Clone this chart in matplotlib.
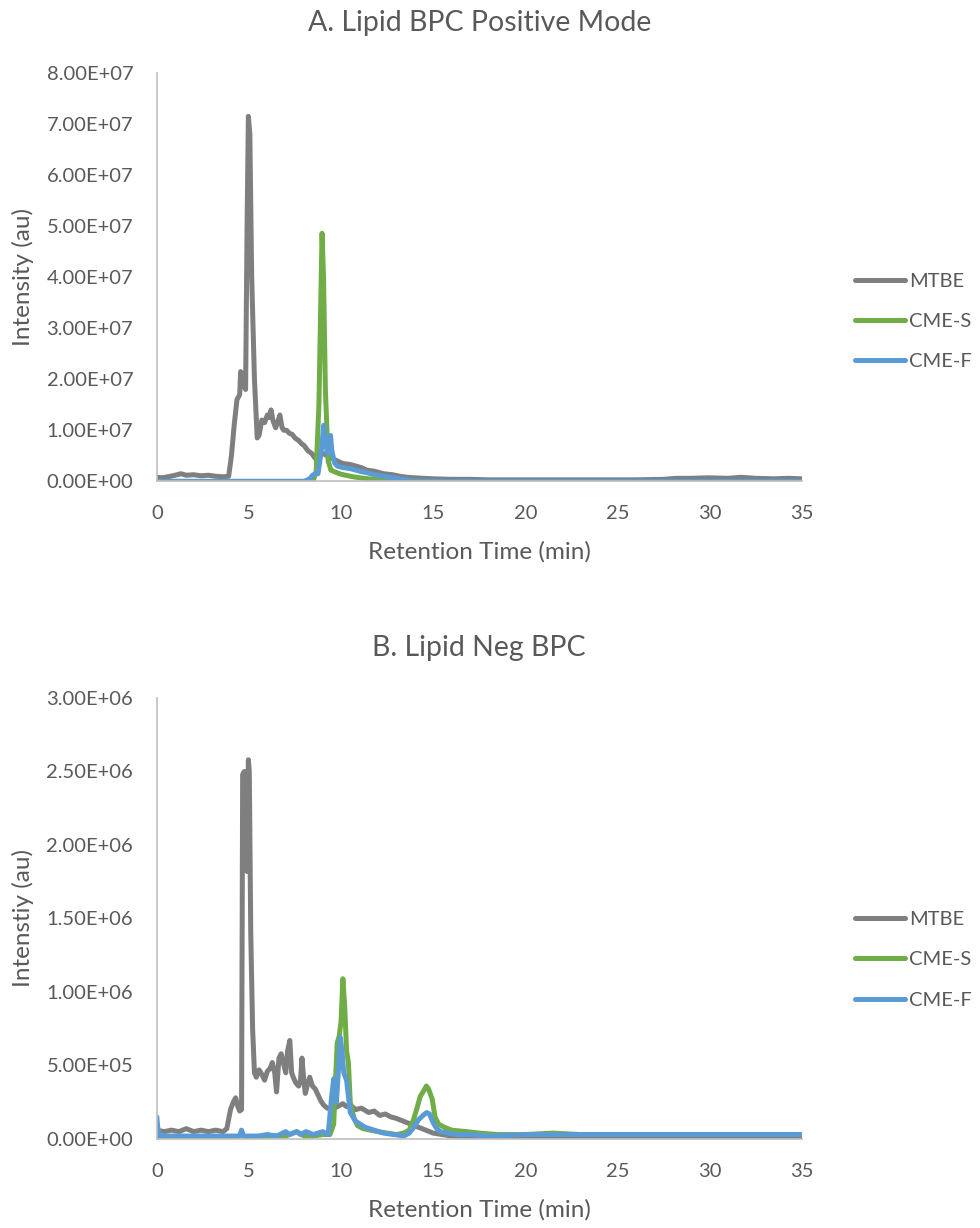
import matplotlib
matplotlib.use("Agg")
import matplotlib.pyplot as plt
from matplotlib.ticker import FuncFormatter

plt.rcParams['font.family'] = ['Lato', 'DejaVu Sans']

# --- A. positive mode (time in min, intensity / 1e7) ---
mtbe_pos = [(0, 0.08), (0.3, 0.07), (0.6, 0.09), (1.0, 0.12), (1.3, 0.15), (1.6, 0.12),
            (2.0, 0.13), (2.4, 0.11), (2.8, 0.12), (3.2, 0.10), (3.6, 0.09), (3.9, 0.10),
            (4.05, 0.5), (4.2, 1.1), (4.35, 1.6), (4.5, 1.7), (4.55, 2.15), (4.65, 2.1),
            (4.75, 1.85), (4.82, 1.8), (4.9, 5.0), (4.97, 7.15), (5.05, 6.8), (5.15, 4.0),
            (5.3, 2.0), (5.45, 0.85), (5.55, 0.9), (5.7, 1.2), (5.85, 1.15), (6.0, 1.3),
            (6.1, 1.25), (6.2, 1.4), (6.3, 1.2), (6.45, 1.05), (6.55, 1.15), (6.68, 1.3),
            (6.8, 1.05), (6.9, 1.0), (7.05, 1.0), (7.2, 0.94), (7.35, 0.92), (7.5, 0.85),
            (7.7, 0.8), (7.85, 0.74), (8.0, 0.7), (8.2, 0.6), (8.4, 0.55), (8.6, 0.45),
            (8.8, 0.5), (9.0, 0.55), (9.25, 0.5), (9.5, 0.45), (9.8, 0.4), (10.1, 0.35),
            (10.5, 0.33), (10.8, 0.3), (11.1, 0.27), (11.4, 0.22), (11.8, 0.2), (12.3, 0.15),
            (12.8, 0.13), (13.2, 0.1), (13.6, 0.08), (14.0, 0.07), (14.5, 0.06), (15.0, 0.05),
            (16, 0.04), (17, 0.04), (18, 0.03), (20, 0.03), (22, 0.03), (24, 0.03), (26, 0.03),
            (27.5, 0.04), (28.2, 0.06), (29, 0.06), (30, 0.07), (31, 0.06), (31.7, 0.08),
            (32.5, 0.06), (33.5, 0.05), (34.3, 0.06), (35, 0.05)]
cmes_pos = [(0, 0.0), (5, 0.0), (8.0, 0.0), (8.5, 0.02), (8.65, 0.2), (8.8, 1.5), (8.9, 3.5),
            (8.97, 4.86), (9.05, 4.0), (9.15, 1.8), (9.3, 0.4), (9.45, 0.22), (9.7, 0.18),
            (10.0, 0.14), (10.5, 0.1), (11, 0.07), (12, 0.03), (13, 0.01), (15, 0.0),
            (20, 0.0), (25, 0.0), (30, 0.0), (35, 0.0)]
cmef_pos = [(0, 0.0), (8.0, 0.0), (8.3, 0.05), (8.45, 0.12), (8.6, 0.15), (8.75, 0.15),
            (8.85, 0.4), (8.95, 0.67), (9.06, 1.1), (9.15, 0.85), (9.25, 0.55), (9.35, 0.7),
            (9.43, 0.9), (9.5, 0.6), (9.65, 0.36), (9.8, 0.3), (10.1, 0.27), (10.5, 0.25),
            (11.0, 0.2), (11.4, 0.17), (11.8, 0.13), (12.3, 0.1), (12.8, 0.07), (13.2, 0.05),
            (13.6, 0.02), (14, 0.0), (15, 0.0), (35, 0.0)]

# --- B. negative mode (time in min, intensity / 1e6) ---
mtbe_neg = [(0, 0.06), (0.4, 0.05), (0.8, 0.06), (1.2, 0.05), (1.6, 0.07), (2.0, 0.05),
            (2.4, 0.06), (2.8, 0.05), (3.2, 0.06), (3.6, 0.05), (3.8, 0.07), (4.0, 0.2),
            (4.15, 0.25), (4.28, 0.28), (4.4, 0.22), (4.5, 0.19), (4.6, 0.2), (4.66, 2.48),
            (4.75, 2.5), (4.82, 2.4), (4.9, 1.82), (4.97, 2.58), (5.02, 2.5), (5.1, 1.4),
            (5.2, 0.75), (5.3, 0.45), (5.4, 0.42), (5.55, 0.47), (5.7, 0.44), (5.85, 0.40),
            (6.0, 0.46), (6.15, 0.48), (6.27, 0.52), (6.4, 0.45), (6.5, 0.32), (6.63, 0.55),
            (6.75, 0.58), (6.9, 0.5), (7.0, 0.45), (7.1, 0.6), (7.22, 0.67), (7.32, 0.45),
            (7.44, 0.41), (7.55, 0.38), (7.7, 0.36), (7.8, 0.4), (7.88, 0.55), (7.98, 0.4),
            (8.06, 0.31), (8.2, 0.38), (8.3, 0.42), (8.45, 0.36), (8.6, 0.34), (8.75, 0.3),
            (8.9, 0.26), (9.06, 0.23), (9.25, 0.21), (9.5, 0.2), (9.8, 0.22), (10.1, 0.24),
            (10.3, 0.22), (10.5, 0.23), (10.8, 0.2), (11.1, 0.21), (11.5, 0.18), (11.8, 0.19),
            (12.1, 0.16), (12.4, 0.17), (12.7, 0.15), (13.0, 0.14), (13.4, 0.12), (13.8, 0.1),
            (14.2, 0.08), (14.6, 0.06), (15.0, 0.04), (15.5, 0.03), (16, 0.02), (17, 0.015),
            (18, 0.015), (20, 0.015), (22, 0.015), (25, 0.012), (28, 0.012), (31, 0.015),
            (33, 0.015), (35, 0.015)]
cmes_neg = [(0, 0.01), (0.5, 0.01), (1, 0.01), (2, 0.01), (3, 0.01), (4, 0.01), (4.5, 0.02),
            (4.6, 0.05), (4.7, 0.02), (5, 0.01), (6, 0.02), (7, 0.02), (7.6, 0.05), (8, 0.02),
            (8.5, 0.02), (9, 0.03), (9.4, 0.03), (9.6, 0.1), (9.7, 0.4), (9.79, 0.65),
            (9.9, 0.7), (10.0, 0.8), (10.1, 1.09), (10.2, 0.9), (10.3, 0.6), (10.4, 0.52),
            (10.5, 0.25), (10.7, 0.14), (10.9, 0.09), (11.2, 0.07), (11.6, 0.06), (12.0, 0.05),
            (12.5, 0.04), (13.0, 0.03), (13.4, 0.04), (13.7, 0.06), (13.93, 0.13), (14.1, 0.2),
            (14.3, 0.29), (14.5, 0.33), (14.63, 0.36), (14.75, 0.34), (14.95, 0.27), (15.1, 0.15),
            (15.3, 0.1), (15.6, 0.08), (16.0, 0.06), (16.8, 0.05), (17.5, 0.04), (18.5, 0.03),
            (20, 0.03), (21.5, 0.04), (23, 0.03), (25, 0.03), (27, 0.03), (29, 0.03),
            (31, 0.03), (33, 0.03), (35, 0.03)]
cmef_neg = [(0, 0.15), (0.05, 0.08), (0.15, 0.02), (0.5, 0.02), (1, 0.02), (2, 0.02),
            (3, 0.02), (4, 0.02), (4.5, 0.02), (4.6, 0.06), (4.7, 0.02), (5, 0.02), (5.5, 0.02),
            (6, 0.03), (6.5, 0.02), (7.0, 0.05), (7.2, 0.03), (7.6, 0.05), (7.8, 0.03),
            (8.1, 0.05), (8.5, 0.03), (9.0, 0.05), (9.3, 0.03), (9.5, 0.3), (9.6, 0.41),
            (9.75, 0.25), (9.85, 0.45), (9.96, 0.69), (10.05, 0.6), (10.15, 0.45), (10.3, 0.4),
            (10.5, 0.18), (10.8, 0.12), (11.3, 0.08), (11.8, 0.06), (12.3, 0.04), (12.9, 0.03),
            (13.4, 0.02), (13.7, 0.04), (13.95, 0.08), (14.2, 0.13), (14.45, 0.16), (14.65, 0.18),
            (14.8, 0.17), (15.0, 0.11), (15.2, 0.07), (15.4, 0.05), (15.8, 0.04), (16.3, 0.03),
            (17, 0.03), (18, 0.02), (20, 0.03), (22, 0.03), (25, 0.03), (28, 0.03), (30, 0.03),
            (32, 0.03), (35, 0.03)]

series_names = ['MTBE', 'CME-S', 'CME-F']
colors = ['#7F7F7F', '#70AD47', '#5B9BD5']
txt = '#595959'
spine_col = '#BFBFBF'


def draw_panel(ax, data, scale, ymax, ystep, title, ylabel, leg_y):
    for (name, pts, c) in zip(series_names, data, colors):
        t = [p[0] for p in pts]
        v = [p[1] * scale for p in pts]
        ax.plot(t, v, color=c, lw=3.6, label=name, solid_joinstyle='round',
                solid_capstyle='round')
    ax.set_xlim(0, 35)
    ax.set_ylim(0, ymax)
    ax.set_xticks(range(0, 36, 5))
    ax.set_yticks([i * ystep for i in range(int(round(ymax / ystep)) + 1)])
    ax.yaxis.set_major_formatter(FuncFormatter(lambda y, pos: '{:.2E}'.format(y)))
    for s in ['top', 'right']:
        ax.spines[s].set_visible(False)
    for s in ['left', 'bottom']:
        ax.spines[s].set_color(spine_col)
        ax.spines[s].set_linewidth(1.2)
    ax.tick_params(length=0, labelsize=14.5, colors=txt)
    ax.tick_params(axis='y', pad=17)
    ax.tick_params(axis='x', pad=17)
    ax.set_title(title, fontsize=20.5, color=txt, pad=30)
    ax.set_xlabel('Retention Time (min)', fontsize=17.5, color=txt, labelpad=14)
    ax.set_ylabel(ylabel, fontsize=17.5, color=txt, labelpad=9)
    leg = ax.legend(loc='center left', bbox_to_anchor=(1.082, leg_y), frameon=False,
                    fontsize=14.5, handlelength=2.5, handletextpad=0.2, labelspacing=1.15,
                    borderpad=0, borderaxespad=0)
    for tx in leg.get_texts():
        tx.set_color(txt)


fig = plt.figure(figsize=(9.8, 12.28), dpi=100)
ax1 = fig.add_axes([0.160, 0.608, 0.658, 0.3326])
ax2 = fig.add_axes([0.160, 0.0725, 0.658, 0.3591])

draw_panel(ax1, [mtbe_pos, cmes_pos, cmef_pos], 1e7, 8e7, 1e7,
           'A. Lipid BPC Positive Mode', 'Intensity (au)', 0.391)
draw_panel(ax2, [mtbe_neg, cmes_neg, cmef_neg], 1e6, 3e6, 5e5,
           'B. Lipid Neg BPC', 'Intenstiy (au)', 0.406)

fig.savefig('out.png', dpi=100)
